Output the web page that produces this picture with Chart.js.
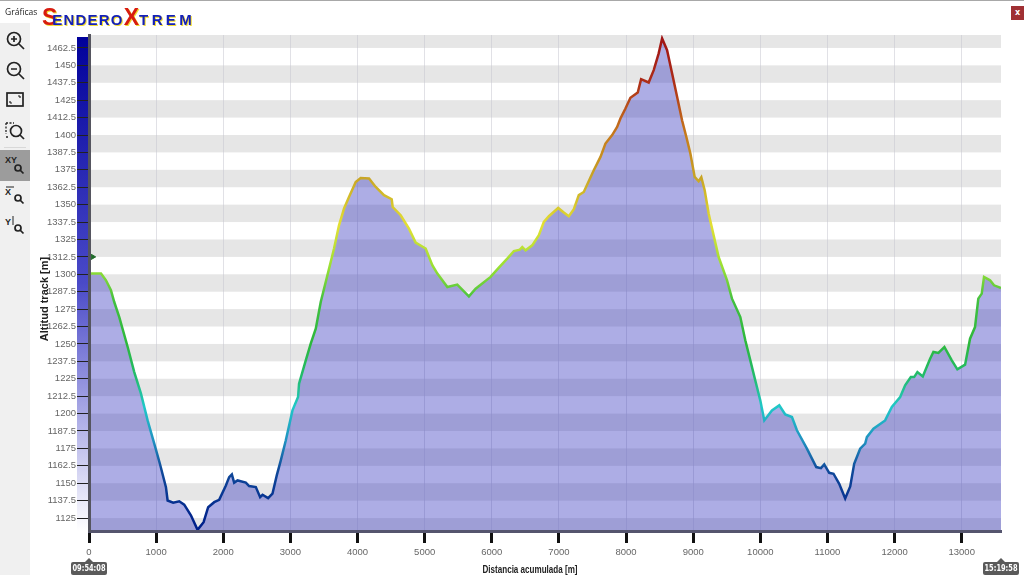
<!DOCTYPE html>
<html>
<head>
<meta charset="utf-8">
<title>Gráficas</title>
<script src="https://cdn.jsdelivr.net/npm/chart.js@4"></script>
<style>
    html, body { margin: 0; padding: 0; background: #fff; overflow: hidden; }
    #wrap { position: relative; width: 1024px; height: 575px; font-family: "Liberation Sans", sans-serif; }
    #topline { position: absolute; left: 0; top: 0; width: 1024px; height: 1px; background: #a8a8a8; }
    #toolbar { position: absolute; left: 0; top: 23px; width: 30px; height: 552px; background: #f0f0f0; }
    #toolbar .active { position: absolute; left: 0; top: 127px; width: 30px; height: 31px; background: #9c9c9c; }
    #toolbar .sep { position: absolute; left: 4px; top: 124px; width: 22px; height: 1px; background: #d8d8d8; }
    #toolbar svg { position: absolute; left: 3px; width: 24px; height: 24px; }
    #heading { position: absolute; left: 5px; top: 6px; font: 8.5px "Open Sans", sans-serif; color: #222; }
    #logo { position: absolute; left: 42px; top: 7px; height: 22px; white-space: nowrap; font: bold 15px "Liberation Sans", sans-serif; color: #1420b8; text-shadow: 1px 1px 0 #f2dc30; letter-spacing: 1.2px; }
    #logo .red { color: #d81c10; font-size: 23px; line-height: 20px; letter-spacing: 0; }
    #logo .first { margin-right: -5px; }
    #logo .last { letter-spacing: 3.4px; }
    #closeBtn { position: absolute; left: 1011px; top: 6px; width: 13px; height: 14px; background: #a03034; color: #fff; font: bold 8px "DejaVu Sans", sans-serif; text-align: center; line-height: 13px; }
    canvas { position: absolute; left: 0; top: 0; }
</style>
</head>
<body>
<div id="wrap">
    <canvas id="profileChart" width="1024" height="575"></canvas>
    <div id="topline"></div>
    <div id="heading">Gráficas</div>
    <div id="logo"><span class="red first">S</span>ENDERO<span class="red">X</span><span class="last">TREM</span></div>
    <div id="closeBtn">x</div>
    <div id="toolbar">
        <div class="sep"></div>
        <div class="active"></div>
    </div>
</div>
<script>
// Track profile
const distances = [0, 15, 179, 253, 327, 376, 451, 576, 674, 774, 873, 972, 1056, 1146, 1171, 1254, 1344, 1418, 1518, 1617,
    1707, 1775, 1865, 1939, 2039, 2088, 2128, 2162, 2213, 2336, 2385, 2485, 2549, 2585, 2668, 2733, 2797, 2857, 2931, 3031,
    3114, 3129, 3229, 3303, 3378, 3452, 3576, 3650, 3724, 3799, 3873, 3973, 4047, 4171, 4271, 4394, 4509, 4524, 4643, 4766,
    4866, 5015, 5114, 5189, 5338, 5486, 5585, 5659, 5759, 5982, 6105, 6230, 6329, 6418, 6454, 6503, 6602, 6701, 6775, 6850,
    6989, 7073, 7147, 7222, 7296, 7370, 7519, 7619, 7693, 7793, 7867, 7916, 7991, 8065, 8174, 8224, 8337, 8412, 8486, 8537,
    8611, 8686, 8760, 8834, 8898, 8958, 9022, 9081, 9121, 9171, 9230, 9379, 9504, 9578, 9702, 9776, 9851, 9925, 9999, 10059,
    10173, 10282, 10371, 10471, 10545, 10694, 10833, 10903, 10952, 11026, 11090, 11175, 11264, 11339, 11398, 11487, 11562, 11587, 11685, 11859,
    11959, 12083, 12157, 12242, 12291, 12340, 12420, 12529, 12578, 12653, 12742, 12852, 12935, 13050, 13124, 13198, 13247, 13298, 13332, 13422,
    13481, 13571, 13585];

const altitudes = [1300.5, 1300.5, 1300.5, 1295.7, 1288.5, 1280.1, 1269.3, 1247.8, 1229.8, 1214.3, 1195.1, 1178.4, 1164, 1147.2, 1137.6, 1136, 1137, 1134.6, 1127, 1116.5,
    1122, 1132.8, 1136.4, 1138.1, 1148.4, 1154.4, 1156.3, 1150.4, 1152, 1150.4, 1148, 1147.2, 1140, 1141.7, 1139.3, 1142.5, 1155.6, 1166.4, 1180.7, 1202.3,
    1211.9, 1221.5, 1238.2, 1250.2, 1261, 1280.1, 1304.1, 1318.5, 1335.2, 1347.2, 1355.5, 1366.3, 1369.2, 1368.8, 1362.7, 1356.8, 1353.9, 1348.3, 1342.4, 1332.8,
    1322.8, 1318.5, 1306.5, 1300.5, 1290.9, 1292.6, 1287.8, 1284.2, 1289.7, 1298.1, 1304.8, 1311.3, 1316.7, 1317.7, 1319.6, 1317.2, 1320.8, 1328, 1337.6, 1341.7,
    1347.6, 1344.3, 1341.7, 1346.7, 1356.8, 1359.1, 1374.7, 1384.3, 1393.9, 1399.9, 1405.8, 1411.9, 1419, 1426.7, 1430.5, 1440.1, 1437.7, 1446.6, 1458.6, 1469.3,
    1460.9, 1444.2, 1427.4, 1410.6, 1398.6, 1386.7, 1369.9, 1366.8, 1369.7, 1360.3, 1343.6, 1312.4, 1295.7, 1282.5, 1269.3, 1252.6, 1238.2, 1223.8, 1209.5, 1195.1,
    1202.3, 1205.9, 1199.4, 1197.5, 1188, 1174.8, 1161.6, 1160.8, 1163.5, 1157.5, 1156.8, 1149.6, 1139.1, 1147.7, 1164, 1174.8, 1178.4, 1183.1, 1189.1, 1195.1,
    1204.7, 1211.9, 1220.3, 1226.2, 1226.2, 1229.8, 1226.7, 1239.4, 1244.2, 1243.5, 1247.8, 1238.2, 1231.8, 1235.1, 1253.8, 1262.1, 1282.5, 1286.1, 1298.1, 1295.7,
    1292.1, 1290.4, 1290];

const yTicks = [1125, 1137.5, 1150, 1162.5, 1175, 1187.5, 1200, 1212.5, 1225, 1237.5, 1250, 1262.5, 1275, 1287.5,
    1300, 1312.5, 1325, 1337.5, 1350, 1362.5, 1375, 1387.5, 1400, 1412.5, 1425, 1437.5, 1450, 1462.5];
const xTicks = [0, 1000, 2000, 3000, 4000, 5000, 6000, 7000, 8000, 9000, 10000, 11000, 12000, 13000];

const yMin = 1115.7;
const yMax = 1471.8;
const xMax = 13585;

// Colour of the track line by altitude
const colorAltitudes = [1470, 1440, 1400, 1370, 1335, 1305, 1280, 1250, 1225, 1205, 1180, 1160, 1120];
const colorValues = ['#a01414', '#ac2a18', '#c67a1c', '#c8a424', '#e2e034', '#98e034', '#40c040', '#2cb83c', '#22bc70', '#20c8c8', '#2090c0', '#104a9a', '#00208a'];

const startTime = '09:54:08';
const endTime = '15:19:58';
const gpsMarker = [{ x: 55, y: 1312.5 }];

// Toolbar icons, top offset inside the toolbar and svg content
const toolbarIcons = [
    [5, '<circle cx="11" cy="11" r="6.5"/><path d="M16 16l5 5M8 11h6M11 8v6"/>'],
    [35, '<circle cx="11" cy="11" r="6.5"/><path d="M16 16l5 5M8 11h6"/>'],
    [65, '<rect x="4" y="5" width="16" height="13"/><path d="M7 15v-2M7 15h2M17 8h-2M17 8v2" stroke-width="1.2"/>'],
    [95, '<path d="M3 5h8M3 5v11M3 19h3" stroke-dasharray="2 1.5" stroke-width="1.3"/><circle cx="13" cy="13" r="5.5"/><path d="M17 17l4 4"/>'],
    [130, '<text x="2" y="10" font-size="9" font-weight="bold" fill="#222" stroke="none">XY</text><circle cx="15" cy="15" r="3"/><path d="M17 17l3.5 3.5"/>'],
    [160, '<text x="2" y="12" font-size="9" font-weight="bold" fill="#222" stroke="none">X</text><path d="M3 4h8" stroke-width="1"/><circle cx="15" cy="15" r="3"/><path d="M17 17l3.5 3.5"/>'],
    [190, '<text x="2" y="12" font-size="9" font-weight="bold" fill="#222" stroke="none">Y</text><path d="M10 3v9" stroke-width="1"/><circle cx="15" cy="15" r="3"/><path d="M17 17l3.5 3.5"/>']
];

function buildToolbar() {
    const toolbar = document.getElementById('toolbar');
    toolbarIcons.forEach(icon => {
        const svg = document.createElementNS('http://www.w3.org/2000/svg', 'svg');
        svg.setAttribute('viewBox', '0 0 24 24');
        svg.style.top = icon[0] + 'px';
        svg.innerHTML = '<g fill="none" stroke="#222" stroke-width="1.7" font-family="Liberation Sans">' + icon[1] + '</g>';
        toolbar.appendChild(svg);
    });
}

// Grey bands behind the plot and the blue strip on the altitude axis
const backgroundPlugin = {
    id: 'profileBackground',
    beforeDraw(chart) {
        const { ctx, chartArea, scales } = chart;
        const y = scales.y;
        ctx.save();

        ctx.fillStyle = '#e6e6e6';
        ctx.fillRect(chartArea.left, y.getPixelForValue(yTicks[0]), chartArea.width, chartArea.bottom - y.getPixelForValue(yTicks[0]));
        for (let i = 1; i < yTicks.length; i += 2) {
            const upper = i + 1 < yTicks.length ? yTicks[i + 1] : yMax;
            const top = y.getPixelForValue(upper);
            ctx.fillRect(chartArea.left, top, chartArea.width, y.getPixelForValue(yTicks[i]) - top);
        }

        const strip = ctx.createLinearGradient(0, chartArea.top, 0, chartArea.bottom);
        strip.addColorStop(0, '#00009a');
        strip.addColorStop(0.5, '#4a4ac8');
        strip.addColorStop(1, '#ffffff');
        ctx.fillStyle = strip;
        ctx.fillRect(chartArea.left - 12, chartArea.top + 2, 11, chartArea.height - 2);
        ctx.restore();
    }
};

// Axis titles and the start/end time tags
const annotationPlugin = {
    id: 'profileAnnotations',
    afterDraw(chart) {
        const { ctx, scales } = chart;
        ctx.save();
        ctx.fillStyle = '#222';
        ctx.font = 'bold 11px "Liberation Sans", sans-serif';
        ctx.textAlign = 'center';
        ctx.textBaseline = 'middle';
        ctx.fillText('Distancia acumulada [m]', 530, 570, 95);
        ctx.save();
        ctx.translate(45, 299);
        ctx.rotate(-Math.PI / 2);
        ctx.fillText('Altitud track [m]', 0, 0, 85);
        ctx.restore();

        drawTimeTag(ctx, scales.x.getPixelForValue(0), startTime);
        drawTimeTag(ctx, scales.x.getPixelForValue(xMax), endTime);
        ctx.restore();
    }
};

function drawTimeTag(ctx, x, text) {
    const width = 36;
    const left = Math.min(x - width / 2, 1020 - width);
    ctx.fillStyle = '#5a5a5a';
    ctx.beginPath();
    ctx.moveTo(x, 558);
    ctx.lineTo(x + 4, 562);
    ctx.lineTo(x - 4, 562);
    ctx.closePath();
    ctx.fill();
    ctx.beginPath();
    ctx.roundRect(left, 562, width, 13, 2);
    ctx.fill();
    ctx.fillStyle = '#fff';
    ctx.font = 'bold 8px "DejaVu Sans", sans-serif';
    ctx.fillText(text, left + width / 2, 569, width - 3);
}

function lineGradient(context) {
    const chart = context.chart;
    if (!chart.chartArea) return '#2cb83c';
    const y = chart.scales.y;
    const top = y.getPixelForValue(colorAltitudes[0]);
    const bottom = y.getPixelForValue(colorAltitudes[colorAltitudes.length - 1]);
    const gradient = chart.ctx.createLinearGradient(0, top, 0, bottom);
    colorAltitudes.forEach((altitude, i) => {
        gradient.addColorStop((y.getPixelForValue(altitude) - top) / (bottom - top), colorValues[i]);
    });
    return gradient;
}

function renderChart() {
    const ctx = document.getElementById('profileChart').getContext('2d');
    new Chart(ctx, {
        type: 'line',
        data: {
            datasets: [
                {
                    data: distances.map((d, i) => ({ x: d, y: altitudes[i] })),
                    borderColor: lineGradient,
                    borderWidth: 2.5,
                    backgroundColor: 'rgba(50, 50, 190, 0.4)',
                    fill: 'start',
                    tension: 0,
                    pointRadius: 0
                },
                {
                    data: gpsMarker,
                    showLine: false,
                    fill: false,
                    pointStyle: 'triangle',
                    rotation: 90,
                    pointRadius: 3,
                    backgroundColor: '#1f6a2a',
                    borderColor: '#1f6a2a'
                }
            ]
        },
        options: {
            responsive: false,
            animation: false,
            layout: { padding: { left: 0, top: 35, right: 23, bottom: 0 } },
            plugins: {
                legend: { display: false },
                title: { display: false },
                tooltip: { enabled: false }
            },
            scales: {
                x: {
                    type: 'linear',
                    min: 0,
                    max: xMax,
                    afterBuildTicks: scale => { scale.ticks = xTicks.map(v => ({ value: v })); },
                    afterFit: scale => { scale.height = 44; },
                    grid: {
                        color: 'rgba(195, 195, 205, 0.5)',
                        lineWidth: 1,
                        tickColor: '#111',
                        tickWidth: 3,
                        tickLength: 12
                    },
                    border: { color: '#55556e', width: 3, z: 1 },
                    ticks: {
                        color: '#666',
                        padding: 4,
                        maxRotation: 0,
                        autoSkip: false,
                        font: { family: 'Liberation Sans', size: 9.5 },
                        callback: value => String(value)
                    }
                },
                y: {
                    type: 'linear',
                    min: yMin,
                    max: yMax,
                    afterBuildTicks: scale => { scale.ticks = yTicks.map(v => ({ value: v })); },
                    afterFit: scale => { scale.width = 89; },
                    grid: {
                        drawOnChartArea: false,
                        tickColor: '#222',
                        tickWidth: 1,
                        tickLength: 12
                    },
                    border: { color: '#55555f', width: 3, z: 1 },
                    ticks: {
                        color: '#666',
                        padding: 1,
                        autoSkip: false,
                        font: { family: 'Liberation Sans', size: 9.5 },
                        callback: value => String(value)
                    }
                }
            }
        },
        plugins: [backgroundPlugin, annotationPlugin]
    });
}

document.addEventListener('DOMContentLoaded', function() {
    buildToolbar();
    renderChart();
});
</script>
</body>
</html>
